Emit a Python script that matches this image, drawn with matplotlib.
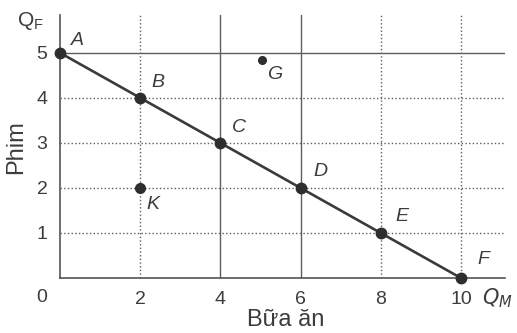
import matplotlib
matplotlib.use('Agg')
import matplotlib.pyplot as plt

plt.rcParams['font.family'] = ['Liberation Sans', 'DejaVu Sans']

# points on the production possibility frontier
labels = ['A', 'B', 'C', 'D', 'E', 'F']
meals = [0, 2, 4, 6, 8, 10]
films = [5, 4, 3, 2, 1, 0]
# points off the frontier
g_pt = (5.05, 4.85)
k_pt = (2, 2)

xticks = [0, 2, 4, 6, 8, 10]
yticks = [1, 2, 3, 4, 5]

fig = plt.figure(figsize=(5.17, 3.33), dpi=100)
ax = fig.add_axes([60/517, 55/333, 445/517, 263/333])
ax.set_xlim(0, 11.1)
ax.set_ylim(0, 5.84)

gcol = '#5e5e5e'
tcol = '#3c3c3c'
# grid lines, some solid, most dotted as in the scan
for x in xticks[1:]:
    ls = '-' if x in (4, 6) else ':'
    ax.axvline(x, color=gcol, lw=1.0, ls=ls, zorder=1)
for y in yticks:
    ls = '-' if y == 5 else ':'
    ax.axhline(y, color=gcol, lw=1.0, ls=ls, zorder=1)

ax.plot(meals, films, color='#3a3a3a', lw=1.9, zorder=3)
ax.plot(meals, films, 'o', color='#2e2e2e', ms=7.5, zorder=4, clip_on=False)
ax.plot([k_pt[0]], [k_pt[1]], 'o', color='#2e2e2e', ms=7, zorder=4)
ax.plot([g_pt[0]], [g_pt[1]], 'o', color='#2e2e2e', ms=5.5, zorder=4)

offs = [(17, 12), (18, 15), (19, 15), (20, 16), (21, 16), (22, 18)]
for lab, x, y, (dx, dy) in zip(labels, meals, films, offs):
    ax.annotate(lab, (x, y), xytext=(dx*0.72, dy*0.72), textcoords='offset points',
                ha='center', va='center', fontsize=14, style='italic', color=tcol)
ax.annotate('G', g_pt, xytext=(12*0.72, -15*0.72), textcoords='offset points',
            ha='center', va='center', fontsize=14, style='italic', color=tcol)
ax.annotate('K', k_pt, xytext=(13*0.72, -17*0.72), textcoords='offset points',
            ha='center', va='center', fontsize=14, style='italic', color=tcol)

for s in ['top', 'right']:
    ax.spines[s].set_visible(False)
for s in ['left', 'bottom']:
    ax.spines[s].set_color('#555555')
    ax.spines[s].set_linewidth(1.2)

ax.set_xticks(xticks[1:])
ax.set_xticklabels([str(v) for v in xticks[1:]])
ax.set_yticks(yticks)
ax.set_yticklabels([str(v) for v in yticks])
ax.tick_params(length=0, labelsize=14, colors=tcol, pad=9)
ax.text(-0.45, -0.44, '0', ha='center', va='center', fontsize=14, color=tcol)

ax.text(-0.75, 5.7, r'$\mathregular{Q_F}$', ha='center', va='center', fontsize=15, color=tcol)
ax.text(10.9, -0.44, r'$\mathit{Q_M}$', ha='center', va='center', fontsize=15, color=tcol)
ax.text(-1.1, 2.9, 'Phim', rotation=90, ha='center', va='center', fontsize=17, color=tcol, clip_on=False)
ax.text(5.64, -0.93, 'Bữa ăn', ha='center', va='center', fontsize=17, color=tcol, clip_on=False)

fig.savefig('out.png', dpi=100)
